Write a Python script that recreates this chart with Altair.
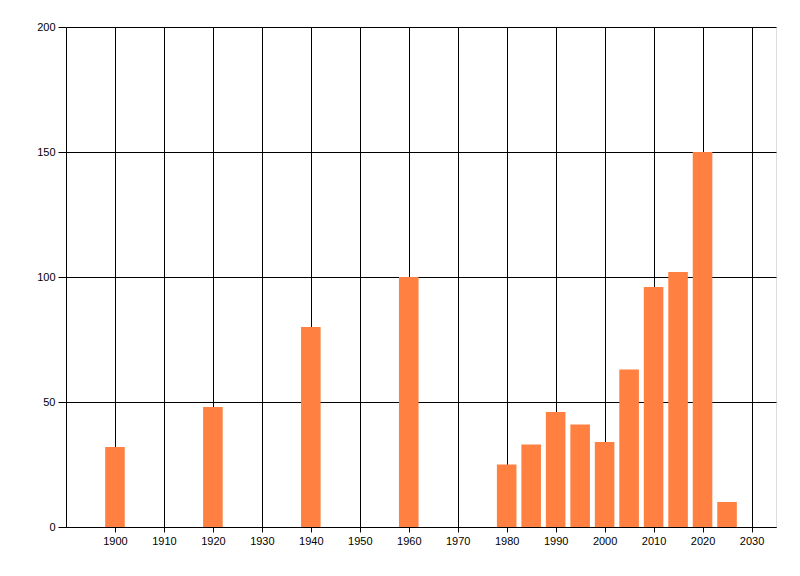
import altair as alt
import pandas as pd

years = [1900, 1920, 1940, 1960, 1980, 1985, 1990, 1995, 2000, 2005, 2010, 2015, 2020, 2025]
values = [32, 48, 80, 100, 25, 33, 46, 41, 34, 63, 96, 102, 150, 10]
x_ticks = list(range(1900, 2031, 10))
y_ticks = [0, 50, 100, 150, 200]

df = pd.DataFrame({"year": years, "value": values})

base = alt.Chart(df).transform_calculate(
    x0="datum.year - 2", x1="datum.year + 2"
)

bars = base.mark_bar(color="#FF8040").encode(
    x=alt.X("x0:Q",
            scale=alt.Scale(domain=[1890, 2035], nice=False, zero=False, padding=0),
            axis=alt.Axis(values=x_ticks, format="d", title=None, grid=True,
                          gridColor="black", gridOpacity=1, gridWidth=1,
                          ticks=True, tickSize=5, tickColor="black", tickWidth=1,
                          labelPadding=3,
                          domainColor="black", domainWidth=1,
                          labelColor="black", labelFontSize=11,
                          labelFont="Liberation Sans")),
    x2="x1:Q",
    y=alt.Y("value:Q",
            scale=alt.Scale(domain=[0, 200], nice=False, padding=0),
            axis=alt.Axis(values=y_ticks, title=None, grid=True,
                          gridColor="black", gridOpacity=1, gridWidth=1,
                          ticks=True, tickSize=8, tickColor="black",
                          tickWidth=1, labelPadding=3,
                          domainColor="black", domainWidth=1,
                          labelColor="black", labelFontSize=11,
                          labelFont="Liberation Sans")),
    y2=alt.datum(0),
)

chart = bars.properties(
    width=710, height=500,
    autosize=alt.AutoSizeParams(type="none"),
    padding={"left": 58, "top": 19, "right": 10, "bottom": 30},
).configure_view(strokeWidth=0, stroke="transparent").configure(background="white")

chart.save("out.html", embed_options={"renderer": "svg", "actions": False})
